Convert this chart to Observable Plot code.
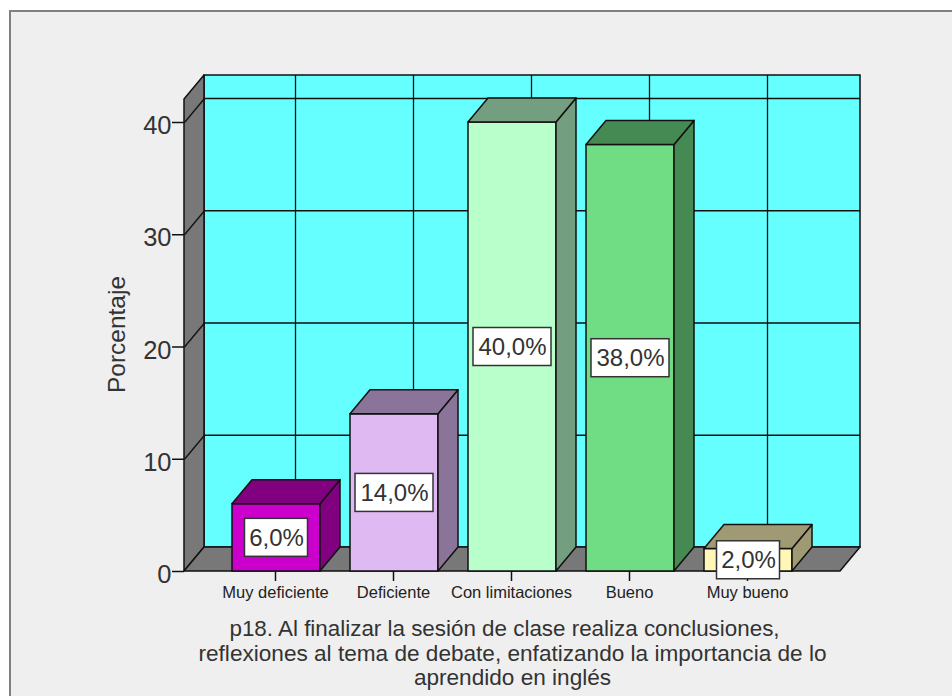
<!DOCTYPE html>
<html>
<head>
<meta charset="utf-8">
<script src="https://cdn.jsdelivr.net/npm/d3@7"></script>
<script src="https://cdn.jsdelivr.net/npm/@observablehq/plot@0.6"></script>
<style>
html,body{margin:0;padding:0;background:#fff;width:952px;height:696px;overflow:hidden}
#frame{position:absolute;left:9px;top:10px;right:0;bottom:0;background:#efefef;border-left:2px solid #808080;border-top:2px solid #808080}
#chart{position:absolute;left:0;top:0}
</style>
</head>
<body>
<div id="frame"></div>
<div id="chart"></div>
<script>
const categories = ["Muy deficiente","Deficiente","Con limitaciones","Bueno","Muy bueno"];
const values = [6,14,40,38,2];
const frontColors = ["#cc00cc","#dfb9f2","#b9ffcb","#70dc84","#fff7b8"];
const topColors = ["#800080","#8b7499","#749e80","#448a52","#9f9a73"];
const yTicks = [0,10,20,30,40];
const axisLabel = "Porcentaje";
const captionFirst = "p18. Al finalizar la sesión de clase realiza conclusiones,";
const captionRest = "reflexiones al tema de debate, enfatizando la importancia de lo\naprendido en inglés";

const pxX = 118, pxY = 11.225;
const dx = 20/pxX, dy = 24/pxY, half = 44/pxX, nudge = 1/pxX;
const xL = -92/pxX, xR = 564/pxX, yMax = 496/pxY;
const ink = "#111";
const bars = values.map((v,i)=>({i,v,label:v.toFixed(1).replace(".",",")+"%",front:frontColors[i],top:topColors[i]}));
const side = bars.flatMap(b=>[
  {k:b.i,x:b.i+half,y1:0,y2:b.v,c:b.top},
  {k:b.i,x:b.i+half+dx,y1:dy,y2:b.v+dy,c:b.top}]);
const roof = bars.flatMap(b=>[
  {k:b.i,y:b.v,x1:b.i-half,x2:b.i+half,c:b.top},
  {k:b.i,y:b.v+dy,x1:b.i-half+dx,x2:b.i+half+dx,c:b.top}]);
const leftWall = [{x:xL,y1:0,y2:yMax-dy},{x:xL+dx,y1:dy,y2:yMax}];
const floor = [{y:0,x1:xL,x2:xR},{y:dy,x1:xL+dx,x2:xR+dx}];
const boxW = b => (b.v>=10?39:31.5)/pxX;
const boxH = 19/pxY;
const catIdx = d3.range(categories.length);

const plot = Plot.plot({
  width:952,height:696,
  marginLeft:184,marginRight:92,marginTop:75,marginBottom:125,
  style:{background:"none",fontFamily:"'Liberation Sans',Arial,sans-serif",overflow:"visible"},
  x:{domain:[xL,xR+dx],label:null},
  y:{domain:[0,yMax],label:null},
  marks:[
    Plot.rect([0],{x1:xL+dx,x2:xR+dx,y1:dy,y2:yMax,fill:"#66ffff",stroke:ink,strokeWidth:1.5}),
    Plot.areaY(leftWall,{x:"x",y1:"y1",y2:"y2",fill:"#787878",stroke:ink,strokeWidth:1.5}),
    Plot.areaX(floor,{y:"y",x1:"x1",x2:"x2",fill:"#787878",stroke:ink,strokeWidth:1.5}),
    Plot.ruleY(yTicks.slice(1),{y:d=>d+dy,x1:xL+dx,x2:xR+dx,stroke:ink,strokeWidth:1.3}),
    Plot.ruleX(catIdx,{x:d=>d+dx-nudge,y1:dy,y2:yMax,stroke:ink,strokeWidth:1.3}),
    Plot.link(yTicks.slice(1),{x1:xL,x2:xL+dx,y1:d=>d,y2:d=>d+dy,stroke:ink,strokeWidth:1.3}),
    Plot.axisY({ticks:yTicks,tickSize:12,fill:"none",stroke:ink,strokeWidth:1.5,label:null}),
    Plot.axisY({ticks:yTicks,tickSize:0,tickPadding:13,fontSize:25.5,fill:"#333",dy:3.5,label:null,tickFormat:d=>d}),
    Plot.axisX({ticks:catIdx,tickSize:10,fill:"none",stroke:ink,strokeWidth:1.5,label:null,dx:-1}),
    Plot.axisX({ticks:catIdx,tickSize:0,tickPadding:15,fontSize:16.5,fill:"#222",dx:-1,label:null,tickFormat:i=>categories[i]}),
    Plot.rect(bars,{x1:d=>d.i-half,x2:d=>d.i+half,y1:0,y2:"v",fill:"front",stroke:ink,strokeWidth:1.5}),
    Plot.areaY(side,{x:"x",y1:"y1",y2:"y2",z:"k",fill:"c",stroke:ink,strokeWidth:1.5}),
    Plot.areaX(roof,{y:"y",x1:"x1",x2:"x2",z:"k",fill:"c",stroke:ink,strokeWidth:1.5}),
    Plot.rect(bars,{x1:d=>d.i-boxW(d),x2:d=>d.i+boxW(d),y1:d=>d.v/2-boxH,y2:d=>d.v/2+boxH,fill:"#fff",stroke:"#333",strokeWidth:1.5}),
    Plot.text(bars,{x:"i",y:d=>d.v/2,text:"label",fontSize:24,fill:"#333"}),
    Plot.text([axisLabel],{frameAnchor:"left",dx:-67,dy:11,rotate:-90,textAnchor:"middle",fontSize:24.5,fill:"#333"}),
    Plot.text([captionFirst],{x:[2],frameAnchor:"bottom",dx:-8,dy:57,fontSize:22.4,fill:"#333",lineAnchor:"middle"}),
    Plot.text([captionRest],{x:[2],frameAnchor:"bottom",lineHeight:1.07,fontSize:22.6,fill:"#333",lineAnchor:"top",dy:72})
  ]
});
document.getElementById("chart").append(plot);
</script>
</body>
</html>
